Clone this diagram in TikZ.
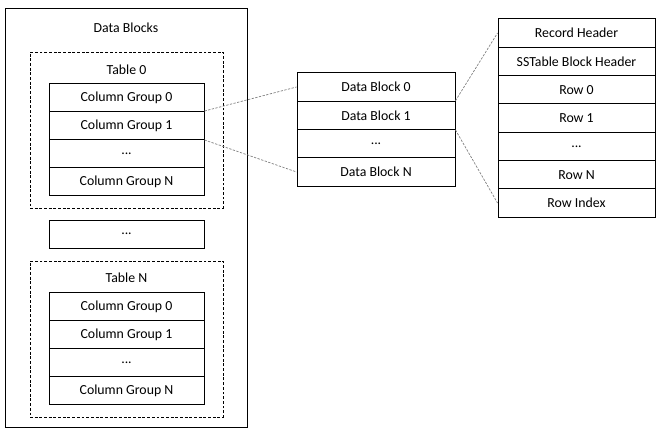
\documentclass[tikz,border=0pt]{standalone}
\usepackage{fontspec}
\setmainfont{Carlito}
\usetikzlibrary{shapes,arrows,positioning,calc}

\begin{document}
\begin{tikzpicture}[font=\fontsize{11.8}{14}\selectfont]
  \tikzstyle{outerbox}=[rectangle, draw=black, line width=0.8pt, minimum width=7.26cm, minimum height=12.57cm]
  \tikzstyle{tablebox}=[rectangle, draw=black, line width=0.7pt, dash pattern=on 2.5pt off 1.5pt, minimum width=5.79cm, minimum height=4.68cm]
  \tikzstyle{cgrow}=[rectangle, draw=black, line width=0.8pt, minimum width=4.65cm, minimum height=0.84cm]
  \tikzstyle{dbrow}=[cgrow, minimum width=4.74cm, minimum height=0.8475cm]
  \tikzstyle{recrow}=[cgrow, minimum width=4.71cm, minimum height=0.849cm]
  \tikzstyle{link}=[draw=gray, line width=0.6pt, dash pattern=on 2pt off 1.2pt]

  \useasboundingbox (0,0) rectangle (19.98,-13.32);

  % Bloques de datos
  \node[outerbox] (blocks) at (3.78,-6.525) {};
  \node (blockstitle) at (3.78,-0.84) {Data Blocks};

  % Tabla 0
  \node[tablebox] (tab0) at (3.795,-3.9) {};
  \node (tab0title) at (3.795,-2.1) {Table 0};
  \node[cgrow] (cg00) at (3.795,-2.925) {Column Group 0};
  \node[cgrow] (cg01) at (3.795,-3.765) {Column Group 1};
  \node[cgrow] (cg0d) at (3.795,-4.605) {...};
  \node[cgrow] (cg0N) at (3.795,-5.445) {Column Group N};

  \node[cgrow] (tabdots) at (3.795,-7.02) {...};

  % Tabla N
  \node[tablebox] (tabN) at (3.795,-10.17) {};
  \node (tabNtitle) at (3.795,-8.34) {Table N};
  \node[cgrow] (cgN0) at (3.795,-9.195) {Column Group 0};
  \node[cgrow] (cgN1) at (3.795,-10.035) {Column Group 1};
  \node[cgrow] (cgNd) at (3.795,-10.875) {...};
  \node[cgrow] (cgNN) at (3.795,-11.715) {Column Group N};

  % Data blocks
  \node[dbrow] (db0) at (11.28,-2.61) {Data Block 0};
  \node[dbrow] (db1) at (11.28,-3.46) {Data Block 1};
  \node[dbrow] (dbd) at (11.28,-4.31) {...};
  \node[dbrow] (dbN) at (11.28,-5.16) {Data Block N};

  % Registro
  \node[recrow] (rechead) at (17.295,-0.99) {Record Header};
  \node[recrow] (sshead) at (17.295,-1.84) {SSTable Block Header};
  \node[recrow] (row0) at (17.295,-2.69) {Row 0};
  \node[recrow] (row1) at (17.295,-3.54) {Row 1};
  \node[recrow] (rowd) at (17.295,-4.39) {...};
  \node[recrow] (rowN) at (17.295,-5.24) {Row N};
  \node[recrow] (rowidx) at (17.295,-6.09) {Row Index};

  % Conexiones
  \draw[link] (cg01.north east) -- (db0.west);
  \draw[link] (cg01.south east) -- (dbN.west);
  \draw[link] (db1.north east) -- (rechead.west);
  \draw[link] (db1.south east) -- (rowidx.west);
\end{tikzpicture}
\end{document}
